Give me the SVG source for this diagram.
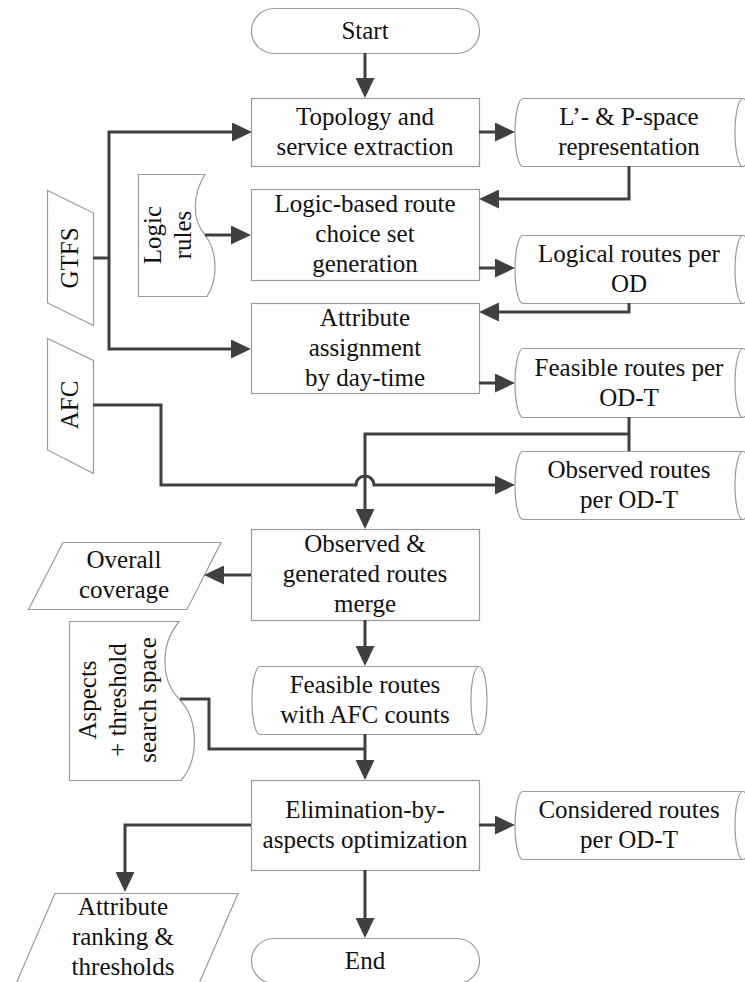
<svg xmlns="http://www.w3.org/2000/svg" width="745" height="982" viewBox="0 0 745 982">
<style>
.box{fill:#fff;stroke:#9a9a9a;stroke-width:1.2}
.t{font-family:"Liberation Serif","Times New Roman",serif;font-size:25px;fill:#111;text-anchor:middle}
.c{fill:none;stroke:#404040;stroke-width:3}
.a{marker-end:url(#ah)}
</style>
<defs>
<marker id="ah" markerUnits="userSpaceOnUse" viewBox="0 0 20 19" refX="0" refY="9.5" markerWidth="20" markerHeight="19" orient="auto-start-reverse">
<path d="M0,0 L20,9.5 L0,19 z" fill="#404040"/>
</marker>
</defs>
<rect width="745" height="982" fill="#fff"/>

<g id="start"><rect class="box" x="251.5" y="8.5" width="228" height="45" rx="22.5"/><text class="t" x="365" y="39">Start</text></g>

<g id="topology"><rect class="box" x="251.5" y="98.5" width="228" height="68"/><text class="t" x="365" y="125">Topology and</text><text class="t" x="365" y="155">service extraction</text></g>

<g id="lpspace"><path class="box" d="M523,98.5 H743 A8,34 0 0 1 743,166.5 H523 A8,34 0 0 1 523,98.5 Z"/><path class="box" style="fill:none" d="M743,98.5 A8,34 0 0 0 743,166.5"/><text class="t" x="629" y="125">L’- &amp; P-space</text><text class="t" x="629" y="155">representation</text></g>

<g id="logicrules"><path class="box" d="M138.5,174.5 H205 C192,195 192,220 205,235 C218,252 218,280 207,296.5 H138.5 Z"/><g transform="translate(168,235) rotate(-90)"><text class="t" x="0" y="-7">Logic</text><text class="t" x="0" y="23">rules</text></g></g>

<g id="logicbased"><rect class="box" x="251.5" y="189.5" width="228" height="91"/><text class="t" x="365" y="212">Logic-based route</text><text class="t" x="365" y="242">choice set</text><text class="t" x="365" y="272">generation</text></g>

<g id="logicalroutes"><path class="box" d="M523,235.5 H743 A8,34 0 0 1 743,303.5 H523 A8,34 0 0 1 523,235.5 Z"/><path class="box" style="fill:none" d="M743,235.5 A8,34 0 0 0 743,303.5"/><text class="t" x="629" y="262">Logical routes per</text><text class="t" x="629" y="292">OD</text></g>

<g id="gtfs"><path class="box" d="M47.5,190.5 L93.5,213 V325.5 L47.5,303 Z"/><text class="t" transform="translate(70,258) rotate(-90)" x="0" y="8">GTFS</text></g>

<g id="attribute"><rect class="box" x="251.5" y="303.5" width="228" height="90"/><text class="t" x="365" y="326">Attribute</text><text class="t" x="365" y="356">assignment</text><text class="t" x="365" y="386">by day-time</text></g>

<g id="feasibleodt"><path class="box" d="M523,348.5 H743 A8,34.5 0 0 1 743,417.5 H523 A8,34.5 0 0 1 523,348.5 Z"/><path class="box" style="fill:none" d="M743,348.5 A8,34.5 0 0 0 743,417.5"/><text class="t" x="629" y="376">Feasible routes per</text><text class="t" x="629" y="406">OD-T</text></g>

<g id="afc"><path class="box" d="M47.5,338.5 L93.5,360.5 V473.5 L47.5,450 Z"/><text class="t" transform="translate(70,405) rotate(-90)" x="0" y="8">AFC</text></g>

<g id="observedodt"><path class="box" d="M523,451.5 H743 A8,34 0 0 1 743,519.5 H523 A8,34 0 0 1 523,451.5 Z"/><path class="box" style="fill:none" d="M743,451.5 A8,34 0 0 0 743,519.5"/><text class="t" x="629" y="478">Observed routes</text><text class="t" x="629" y="508">per OD-T</text></g>

<g id="merge"><rect class="box" x="251.5" y="529.5" width="228" height="91"/><text class="t" x="365" y="552">Observed &amp;</text><text class="t" x="365" y="582">generated routes</text><text class="t" x="365" y="612">merge</text></g>

<g id="coverage"><path class="box" d="M63,542.5 H221 L187,609.5 H28.5 Z"/><text class="t" x="124" y="568">Overall</text><text class="t" x="124" y="598">coverage</text></g>

<g id="feasibleafc"><path class="box" d="M260,666.5 H479 A8,34 0 0 1 479,734.5 H260 A8,34 0 0 1 260,666.5 Z"/><path class="box" style="fill:none" d="M479,666.5 A8,34 0 0 0 479,734.5"/><text class="t" x="365" y="693">Feasible routes</text><text class="t" x="365" y="723">with AFC counts</text></g>

<g id="aspects"><path class="box" d="M69.5,621.5 H179 C160,645 160,680 180,700 C199,720 199,760 181,780.5 H69.5 Z"/><g transform="translate(118,700) rotate(-90)"><text class="t" x="0" y="-22">Aspects</text><text class="t" x="0" y="8">+ threshold</text><text class="t" x="0" y="38">search space</text></g></g>

<g id="elimination"><rect class="box" x="251.5" y="780.5" width="228" height="90"/><text class="t" x="365" y="818">Elimination-by-</text><text class="t" x="365" y="848">aspects optimization</text></g>

<g id="considered"><path class="box" d="M523,791.5 H743 A8,34 0 0 1 743,859.5 H523 A8,34 0 0 1 523,791.5 Z"/><path class="box" style="fill:none" d="M743,791.5 A8,34 0 0 0 743,859.5"/><text class="t" x="629" y="818">Considered routes</text><text class="t" x="629" y="848">per OD-T</text></g>

<g id="ranking"><path class="box" d="M55,893.5 H238 L198,986 H15 Z"/><text class="t" x="123" y="915">Attribute</text><text class="t" x="123" y="945">ranking &amp;</text><text class="t" x="123" y="975">thresholds</text></g>

<g id="end"><rect class="box" x="251.5" y="938.5" width="228" height="45" rx="22.5"/><text class="t" x="365" y="969">End</text></g>

<g id="connectors">
<path class="c a" d="M365,53 V78"/>
<path class="c a" d="M479,132 H495"/>
<path class="c a" d="M629,166 V199 H499"/>
<path class="c a" d="M205,235 H231"/>
<path class="c a" d="M479,268 H495"/>
<path class="c a" d="M629,303 V312 H499"/>
<path class="c" d="M93,258 H109"/>
<path class="c a" style="marker-start:url(#ah)" d="M232,132 H109 V349 H231"/>
<path class="c a" d="M479,383 H495"/>
<path class="c a" d="M93,405 H161 V485 H356 A9,9 0 0 1 374,485 H495"/>
<path class="c" d="M629,417 V451"/>
<path class="c a" d="M629,434 H365 V509"/>
<path class="c a" d="M251,575 H224"/>
<path class="c a" d="M365,620 V646"/>
<path class="c" d="M180,699 H209 V749 H365"/>
<path class="c a" d="M365,734 V760"/>
<path class="c a" d="M251,825 H125 V872"/>
<path class="c a" d="M479,825 H495"/>
<path class="c a" d="M365,870 V918"/>
</g>
</svg>
